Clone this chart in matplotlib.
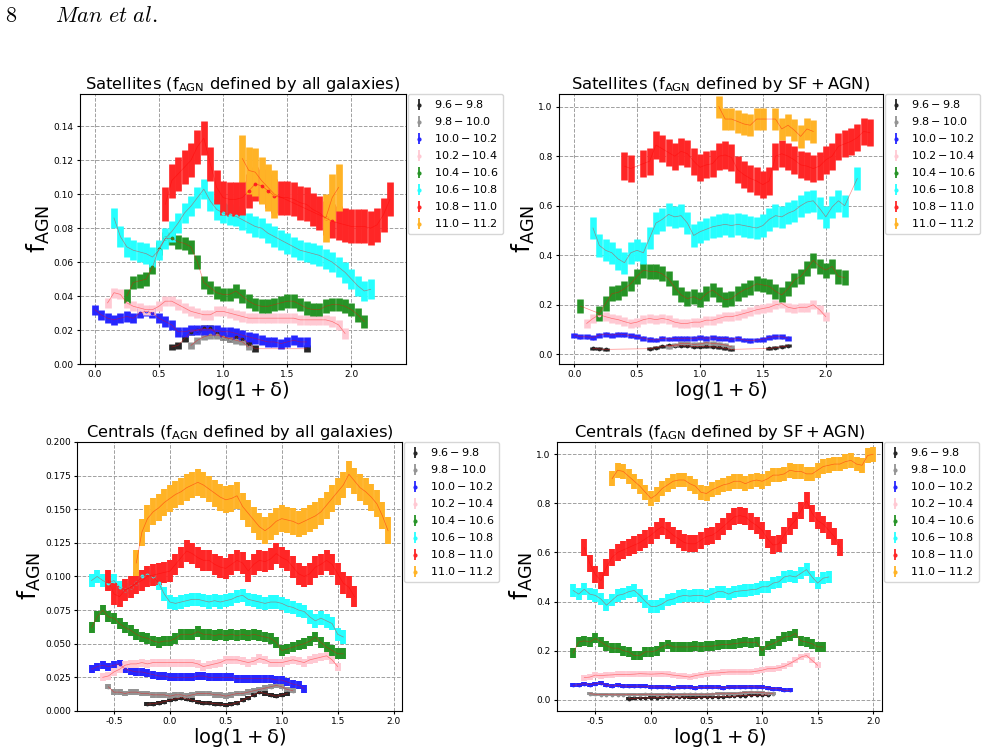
import numpy as np
import matplotlib
matplotlib.use("Agg")
import matplotlib.pyplot as plt
from matplotlib.colors import to_rgb
from matplotlib.ticker import FormatStrFormatter

# sampling grids of log(1+delta)
X_TOP = [0.00, 0.05, 0.10, 0.15, 0.20, 0.25, 0.30, 0.35, 0.40, 0.45, 0.50, 0.55,
         0.60, 0.65, 0.70, 0.75, 0.80, 0.85, 0.90, 0.95, 1.00, 1.05, 1.10, 1.15,
         1.20, 1.25, 1.30, 1.35, 1.40, 1.45, 1.50, 1.55, 1.60, 1.65, 1.70, 1.75,
         1.80, 1.85, 1.90, 1.95, 2.00, 2.05, 2.10, 2.15, 2.20, 2.25, 2.30, 2.35]
X_BOT = [-0.70, -0.65, -0.60, -0.55, -0.50, -0.45, -0.40, -0.35, -0.30, -0.25,
         -0.20, -0.15, -0.10, -0.05, 0.00, 0.05, 0.10, 0.15, 0.20, 0.25, 0.30,
         0.35, 0.40, 0.45, 0.50, 0.55, 0.60, 0.65, 0.70, 0.75, 0.80, 0.85, 0.90,
         0.95, 1.00, 1.05, 1.10, 1.15, 1.20, 1.25, 1.30, 1.35, 1.40, 1.45, 1.50,
         1.55, 1.60, 1.65, 1.70, 1.75, 1.80, 1.85, 1.90, 1.95, 2.00]

mass_bins = ['9.6-9.8', '9.8-10.0', '10.0-10.2', '10.2-10.4',
             '10.4-10.6', '10.6-10.8', '10.8-11.0', '11.0-11.2']
colors = ['black', 'grey', 'blue', 'pink', 'green', 'cyan', 'red', 'orange']

# ---- satellites, fAGN defined by all galaxies ----
sat_all_x0 = [0.60, 0.75, 0.00, 0.10, 0.25, 0.15, 0.55, 1.15]
sat_all_err = [0.002, 0.002, 0.003, 0.003, 0.004, 0.006, 0.010, 0.014]
sat_all_96 = [0.010, 0.011, 0.015, 0.019, 0.020, 0.021, 0.021, 0.018, 0.016, 0.015,
              0.016, 0.015, 0.012, 0.009] + [None] * 7 + [0.009]
sat_all_98 = [0.011, 0.014, 0.016, 0.017, 0.017, 0.016, 0.015, 0.014, 0.013, 0.010]
sat_all_100 = [0.032, 0.029, 0.027, 0.026, 0.027, 0.028, 0.027, 0.030, 0.031, 0.030,
               0.027, 0.025, 0.023, 0.019, 0.019, 0.020, 0.020, 0.020, 0.020, 0.020,
               0.019, 0.019, 0.018, 0.017, 0.016, 0.015, 0.014, 0.013, 0.013, 0.012,
               0.013, 0.014, 0.013, 0.013]
sat_all_102 = [0.036, 0.042, 0.041, 0.036, 0.034, 0.033, 0.032, 0.032, 0.034, 0.037,
               0.037, 0.035, 0.033, 0.031, 0.030, 0.029, 0.029, 0.031, 0.031, 0.030,
               0.029, 0.028, 0.027, 0.027, 0.027, 0.027, 0.027, 0.027, 0.027, 0.027,
               0.026, 0.026, 0.026, 0.026, 0.026, 0.025, 0.023, 0.018]
sat_all_104 = [0.040, 0.048, 0.049, 0.050, 0.057, 0.068, 0.074, 0.074, 0.072, 0.071,
               0.069, 0.060, 0.048, 0.045, 0.042, 0.041, 0.041, 0.043, 0.040, 0.037,
               0.035, 0.034, 0.034, 0.035, 0.036, 0.037, 0.037, 0.035, 0.033, 0.032,
               0.032, 0.034, 0.035, 0.035, 0.034, 0.032, 0.029, 0.025]
sat_all_106 = [0.086, 0.075, 0.069, 0.067, 0.066, 0.065, 0.063, 0.067, 0.074, 0.078,
               0.083, 0.089, 0.093, 0.098, 0.103, 0.096, 0.091, 0.089, 0.088, 0.087,
               0.085, 0.083, 0.081, 0.080, 0.077, 0.075, 0.073, 0.071, 0.069, 0.067,
               0.066, 0.065, 0.064, 0.062, 0.060, 0.057, 0.054, 0.050, 0.046, 0.043,
               0.044]
sat_all_108 = [0.094, 0.108, 0.112, 0.116, 0.120, 0.128, 0.133, 0.118, 0.104, 0.098,
               0.097, 0.097, 0.098, 0.102, 0.106, 0.105, 0.102, 0.099, 0.098, 0.098,
               0.097, 0.095, 0.094, 0.091, 0.089, 0.086, 0.084, 0.083, 0.082, 0.081,
               0.081, 0.081, 0.080, 0.082, 0.088, 0.097]
sat_all_110 = [0.121, 0.114, 0.113, 0.108, 0.104, 0.100] + [None] * 7 + [0.086, 0.098, 0.104]

# ---- satellites, fAGN defined by SF + AGN ----
sat_sf_x0 = [0.15, 0.75, 0.00, 0.10, 0.05, 0.15, 0.40, 1.15]
sat_sf_err = [0.006, 0.008, 0.010, 0.018, 0.030, 0.045, 0.055, 0.045]
sat_sf_96 = [0.024, 0.022, 0.020] + [None] * 6 + \
            [0.023, 0.027, 0.032, 0.036, 0.034, 0.035, 0.034, 0.031, 0.031, 0.033,
             0.031, 0.028, 0.024, 0.020] + [None] * 5 + [0.024, 0.027, 0.031, 0.034]
sat_sf_98 = [0.031, 0.038, 0.044, 0.044, 0.040, 0.042, 0.047, 0.044, 0.042, 0.038, 0.031]
sat_sf_100 = [0.078, 0.071, 0.071, 0.068, 0.078, 0.082, 0.078, 0.082, 0.080, 0.075,
              0.071, 0.065, 0.060, 0.058, 0.065, 0.062, 0.065, 0.065, 0.065, 0.065,
              0.067, 0.065, 0.067, 0.065, 0.065, 0.061, 0.065, 0.058, 0.055, 0.058,
              0.061, 0.069, 0.071, 0.071, 0.065]
sat_sf_102 = [0.125, 0.145, 0.160, 0.152, 0.145, 0.140, 0.132, 0.125, 0.130, 0.140,
              0.145, 0.140, 0.145, 0.140, 0.130, 0.125, 0.125, 0.130, 0.130, 0.138,
              0.138, 0.145, 0.152, 0.152, 0.158, 0.165, 0.172, 0.180, 0.185, 0.190,
              0.200, 0.205, 0.190, 0.185, 0.190, 0.190, 0.200, 0.180, 0.152]
sat_sf_104 = [0.195, None, None, 0.165, 0.205, 0.245, 0.250, 0.265, 0.285, 0.315,
              0.340, 0.335, 0.335, 0.325, 0.305, 0.270, 0.240, 0.225, 0.233, 0.220,
              0.245, 0.260, 0.240, 0.220, 0.225, 0.245, 0.260, 0.270, 0.285, 0.280,
              0.275, 0.255, 0.240, 0.265, 0.300, 0.315, 0.345, 0.380, 0.355, 0.340,
              0.355, 0.315, 0.310]
sat_sf_106 = [0.510, 0.440, 0.420, 0.410, 0.385, 0.370, 0.410, 0.420, 0.410, 0.470,
              0.530, 0.545, 0.565, 0.555, 0.560, 0.530, 0.480, 0.495, 0.505, 0.515,
              0.520, 0.525, 0.520, 0.525, 0.520, 0.515, 0.510, 0.520, 0.545, 0.560,
              0.555, 0.570, 0.580, 0.600, 0.615, 0.620, 0.590, 0.555, 0.595, 0.620,
              0.600, None, 0.710]
sat_sf_108 = [0.760, 0.750, None, 0.770, 0.780, 0.845, 0.830, 0.815, 0.800, 0.820,
              0.810, 0.780, 0.755, 0.765, 0.770, 0.800, 0.805, 0.795, 0.745, 0.725,
              0.710, 0.700, 0.685, 0.700, 0.800, 0.810, 0.800, 0.785, 0.765, 0.760,
              0.750, 0.760, 0.785, 0.800, 0.840, 0.850, 0.860, 0.875, 0.900, 0.895]
sat_sf_110 = [1.000, 0.950, 0.950, 0.940, 0.930, 0.925, 0.950, 0.950, None, 0.950,
              0.910, 0.925, 0.905, 0.880, 0.910, 0.900]

# ---- centrals, fAGN defined by all galaxies ----
cen_all_x0 = [-0.20, -0.55, -0.70, -0.60, -0.70, -0.70, -0.55, -0.30]
cen_all_err = [0.0015, 0.002, 0.003, 0.003, 0.004, 0.005, 0.008, 0.010]
cen_all_96 = [0.005, 0.0055, 0.006, 0.007, 0.008, 0.009, 0.010, 0.009, 0.008, 0.007,
              0.006, 0.006, 0.0055, 0.005, 0.0047, 0.005, 0.006, 0.008, 0.010, 0.012,
              0.014, 0.013, 0.012, 0.011, 0.012, 0.013]
cen_all_98 = [0.018, 0.014, 0.014, 0.013, 0.014, 0.014, 0.013, 0.013, 0.012, 0.012,
              0.012, 0.011, 0.012, 0.012, 0.011, 0.012, 0.013, 0.013, 0.013, 0.012,
              0.012, 0.011, 0.012, 0.013, 0.013, 0.014, 0.015, 0.016, 0.017, 0.018,
              0.019, 0.018, 0.016, 0.015]
cen_all_100 = [0.031, 0.033, 0.034, 0.033, 0.034, 0.035, 0.031, 0.030, 0.029, 0.029,
               0.028, 0.027, 0.026, 0.026, 0.025, 0.025, 0.025, 0.025, 0.025, 0.026,
               0.026, 0.025, 0.025, 0.025, 0.025, 0.025, 0.024, 0.024, 0.024, 0.024,
               0.024, 0.024, 0.024, 0.023, 0.023, 0.0215, 0.020, 0.019, 0.0166]
cen_all_102 = [0.025, 0.026, 0.029, 0.031, 0.034, 0.035, 0.035, 0.036, 0.035, 0.036,
               0.036, 0.036, 0.036, 0.036, 0.036, 0.036, 0.036, 0.035, 0.033, 0.034,
               0.035, 0.036, 0.038, 0.038, 0.038, 0.037, 0.036, 0.037, 0.039, 0.038,
               0.036, 0.036, 0.036, 0.037, 0.038, 0.037, 0.036, 0.038, 0.039, 0.040,
               0.041, 0.038, 0.033]
cen_all_104 = [0.062, 0.070, 0.075, 0.070, 0.069, 0.065, 0.062, 0.060, 0.057, 0.055,
               0.054, 0.052, 0.051, 0.052, 0.052, 0.054, 0.057, 0.057, 0.057, 0.059,
               0.057, 0.057, 0.056, 0.057, 0.056, 0.057, 0.056, 0.057, 0.056, 0.057,
               0.056, 0.055, 0.054, 0.051, 0.045, 0.046, 0.0475, 0.049, 0.050, 0.052,
               0.055, 0.051, 0.0475, 0.045, 0.0425, 0.0425]
cen_all_106 = [0.097, 0.100, 0.097, 0.095, 0.097, 0.092, 0.090, 0.092, 0.095, 0.100,
               0.101, 0.100, 0.095, 0.087, 0.081, 0.080, 0.081, 0.082, 0.083, 0.083,
               0.082, 0.081, 0.082, 0.081, 0.082, 0.083, 0.085, 0.086, 0.083, 0.082,
               0.081, 0.080, 0.081, 0.081, 0.080, 0.078, 0.077, 0.075, 0.074, 0.070,
               0.067, 0.069, 0.067, 0.065, 0.057, 0.055]
cen_all_108 = [0.097, 0.087, 0.085, 0.090, 0.092, 0.095, 0.097, 0.100, 0.101, 0.102,
               0.103, 0.104, 0.109, 0.114, 0.119, 0.117, 0.114, 0.112, 0.112, 0.109,
               0.107, 0.106, 0.109, 0.112, 0.110, 0.104, 0.109, 0.112, 0.111, 0.113,
               0.117, 0.114, 0.112, 0.107, 0.102, 0.100, 0.102, 0.107, 0.109, 0.112,
               0.109, 0.102, 0.095, 0.092, 0.085]
cen_all_110 = [0.110, 0.133, 0.143, 0.148, 0.151, 0.155, 0.158, 0.161, 0.163, 0.166,
               0.168, 0.170, 0.168, 0.165, 0.162, 0.159, 0.157, 0.158, 0.160, 0.152,
               0.147, 0.142, 0.137, 0.134, 0.137, 0.141, 0.143, 0.142, 0.141, 0.139,
               0.141, 0.143, 0.145, 0.148, 0.153, 0.158, 0.163, 0.168, 0.176, 0.171,
               0.166, 0.163, 0.159, 0.154, 0.145, 0.134]

# ---- centrals, fAGN defined by SF + AGN ----
cen_sf_x0 = [-0.20, -0.55, -0.70, -0.60, -0.70, -0.70, -0.60, -0.35]
cen_sf_err = [0.005, 0.006, 0.008, 0.012, 0.020, 0.025, 0.035, 0.030]
cen_sf_96 = [0.004, 0.005, 0.007, 0.007, 0.008, 0.008, 0.009, 0.010, 0.011, 0.010,
             0.010, 0.009, 0.009, 0.010, 0.010, 0.010, 0.011, 0.012, 0.013, 0.014,
             0.016, 0.017, 0.018, 0.018, 0.019, 0.020]
cen_sf_98 = [0.0245, 0.022, 0.021, 0.021, 0.020, 0.020, 0.020, 0.021, 0.021, 0.021,
             0.022, 0.022, 0.021, 0.021, 0.022, 0.021, 0.021, 0.022, 0.022, 0.022,
             0.022, 0.022, 0.023, 0.024, 0.024, 0.024, 0.025, 0.027, 0.029, 0.031,
             0.030, 0.029, 0.027, 0.024]
cen_sf_100 = [0.058, 0.061, 0.065, 0.061, 0.065, 0.068, 0.058, 0.056, 0.058, 0.056,
              0.054, 0.055, 0.055, 0.054, 0.052, 0.052, 0.052, 0.050, 0.049, 0.050,
              0.052, 0.050, 0.049, 0.050, 0.050, 0.051, 0.050, 0.049, 0.051, 0.052,
              0.052, 0.052, 0.053, 0.052, 0.050, 0.049, 0.045, 0.045, 0.038, 0.038]
cen_sf_102 = [0.090, 0.092, 0.100, 0.098, 0.100, 0.101, 0.103, 0.103, 0.103, 0.104,
              0.106, 0.105, 0.104, 0.105, 0.106, 0.104, 0.100, 0.098, 0.095, 0.092,
              0.098, 0.102, 0.106, 0.108, 0.109, 0.111, 0.113, 0.113, 0.113, 0.113,
              0.113, 0.116, 0.120, 0.126, 0.126, 0.130, 0.136, 0.147, 0.160, 0.174,
              0.180, 0.160, 0.140]
cen_sf_104 = [0.190, 0.235, 0.240, 0.235, 0.250, 0.235, 0.220, 0.210, 0.210, 0.200,
              0.195, 0.180, 0.180, 0.195, 0.195, 0.200, 0.215, 0.225, 0.215, 0.215,
              0.215, 0.215, 0.218, 0.215, 0.218, 0.218, 0.222, 0.225, 0.225, 0.228,
              0.231, 0.235, 0.232, 0.235, 0.200, 0.221, 0.228, 0.240, 0.255, 0.258,
              0.270, 0.240, 0.235, 0.228, 0.215, 0.215]
cen_sf_106 = [0.445, 0.430, 0.450, 0.430, 0.425, 0.410, 0.385, 0.405, 0.425, 0.430,
              0.440, 0.445, 0.425, 0.400, 0.380, 0.380, 0.390, 0.405, 0.410, 0.420,
              0.425, 0.422, 0.425, 0.425, 0.420, 0.430, 0.440, 0.440, 0.430, 0.440,
              0.443, 0.445, 0.448, 0.450, 0.460, 0.460, 0.475, 0.480, 0.500, 0.505,
              0.500, 0.515, 0.530, 0.500, 0.475, 0.495, 0.500]
cen_sf_108 = [0.620, 0.555, 0.510, 0.485, 0.540, 0.580, 0.600, 0.610, 0.620, 0.630,
              0.640, 0.655, 0.670, 0.690, 0.705, 0.690, 0.670, 0.655, 0.640, 0.635,
              0.635, 0.650, 0.665, 0.670, 0.685, 0.705, 0.725, 0.745, 0.750, 0.745,
              0.725, 0.710, 0.690, 0.655, 0.630, 0.635, 0.670, 0.705, 0.730, 0.770,
              0.810, 0.760, 0.730, 0.715, 0.690, 0.665, 0.620]
cen_sf_110 = [0.900, 0.935, 0.930, 0.910, 0.890, 0.870, 0.845, 0.820, 0.835, 0.860,
              0.875, 0.890, 0.895, 0.895, 0.880, 0.870, 0.845, 0.840, 0.855, 0.865,
              0.875, 0.880, 0.890, 0.890, 0.880, 0.890, 0.895, 0.890, 0.900, 0.915,
              0.915, 0.920, 0.935, 0.930, 0.930, 0.920, 0.920, 0.935, 0.950, 0.955,
              0.960, 0.960, 0.970, 0.975, 0.960, 0.955, 0.995, 1.000]

panels = [
    dict(rect=[0.0807, 0.5153, 0.329, 0.3595], grid=X_TOP, x0=sat_all_x0, err=sat_all_err,
         series=[sat_all_96, sat_all_98, sat_all_100, sat_all_102, sat_all_104,
                 sat_all_106, sat_all_108, sat_all_110],
         title=r'Satellites ($\rm f_{AGN}$ defined by all galaxies)',
         xlim=(-0.115, 2.425), ylim=(0, 0.159), yticks=np.arange(0, 0.141, 0.02),
         xticks=[0, 0.5, 1.0, 1.5, 2.0], yfmt='%.2f'),
    dict(rect=[0.5641, 0.5153, 0.327, 0.3595], grid=X_TOP, x0=sat_sf_x0, err=sat_sf_err,
         series=[sat_sf_96, sat_sf_98, sat_sf_100, sat_sf_102, sat_sf_104,
                 sat_sf_106, sat_sf_108, sat_sf_110],
         title=r'Satellites ($\rm f_{AGN}$ defined by $\rm SF+AGN$)',
         xlim=(-0.12, 2.455), ylim=(-0.039, 1.051), yticks=np.arange(0, 1.01, 0.2),
         xticks=[0, 0.5, 1.0, 1.5, 2.0], yfmt='%.1f'),
    dict(rect=[0.0777, 0.0533, 0.328, 0.3582], grid=X_BOT, x0=cen_all_x0, err=cen_all_err,
         series=[cen_all_96, cen_all_98, cen_all_100, cen_all_102, cen_all_104,
                 cen_all_106, cen_all_108, cen_all_110],
         title=r'Centrals ($\rm f_{AGN}$ defined by all galaxies)',
         xlim=(-0.83, 2.075), ylim=(0, 0.2), yticks=np.arange(0, 0.201, 0.025),
         xticks=[-0.5, 0, 0.5, 1.0, 1.5, 2.0], yfmt='%.3f'),
    dict(rect=[0.5621, 0.0533, 0.328, 0.3582], grid=X_BOT, x0=cen_sf_x0, err=cen_sf_err,
         series=[cen_sf_96, cen_sf_98, cen_sf_100, cen_sf_102, cen_sf_104,
                 cen_sf_106, cen_sf_108, cen_sf_110],
         title=r'Centrals ($\rm f_{AGN}$ defined by $\rm SF+AGN$)',
         xlim=(-0.845, 2.08), ylim=(-0.046, 1.05), yticks=np.arange(0, 1.01, 0.2),
         xticks=[-0.5, 0, 0.5, 1.0, 1.5, 2.0], yfmt='%.1f'),
]

FIG_W, FIG_H = 9.91, 7.51


def on_grid(grid, x0, ys):
    i0 = int(np.argmin(np.abs(np.array(grid) - x0)))
    xs, vs = [], []
    for k, v in enumerate(ys):
        if v is not None:
            xs.append(grid[i0 + k])
            vs.append(v)
    return np.array(xs), np.array(vs)


def faded(c, a=0.85):
    # colour as it looks at alpha a on white, so that touching bars leave no seams
    r = np.array(to_rgb(c))
    return tuple(a * r + (1 - a))


fig = plt.figure(figsize=(FIG_W, FIG_H), dpi=100)

for p in panels:
    ax = fig.add_axes(p['rect'])
    step = p['grid'][1] - p['grid'][0]
    # bar width (points) so that neighbouring error bars just touch
    bar_w = step / (p['xlim'][1] - p['xlim'][0]) * p['rect'][2] * FIG_W * 72 + 0.2
    for ys, x0, e, c, lab in zip(p['series'], p['x0'], p['err'], colors, mass_bins):
        x, y = on_grid(p['grid'], x0, ys)
        fc = faded(c)
        ax.errorbar(x, y, yerr=e, fmt='.', color=fc, ecolor=fc, ms=3.5, elinewidth=bar_w,
                    capsize=0, zorder=2)
        ax.plot(x, y, color='red', lw=0.5, alpha=0.45, zorder=3)
        # thin proxy for the legend handle
        ax.errorbar([], [], yerr=[], fmt='.', color=fc, ecolor=fc, ms=4,
                    elinewidth=1.3, label=r'$%s$' % lab)
    ax.set_xlim(p['xlim'])
    ax.set_ylim(p['ylim'])
    ax.set_xticks(p['xticks'])
    ax.set_yticks(p['yticks'])
    ax.xaxis.set_major_formatter(FormatStrFormatter('%.1f'))
    ax.yaxis.set_major_formatter(FormatStrFormatter(p['yfmt']))
    ax.tick_params(labelsize=6.5, length=2.5, width=0.8, pad=2)
    ax.grid(True, ls='--', color='#a0a0a0', lw=0.7)
    ax.set_axisbelow(True)
    ax.set_title(p['title'], fontsize=11.8, pad=2)
    ax.set_xlabel(r'$\rm log(1+\delta)$', fontsize=14, labelpad=0)
    ax.set_ylabel(r'$\rm f_{AGN}$', fontsize=18, labelpad=1)
    ax.legend(loc='upper left', bbox_to_anchor=(1.005, 1.0), borderaxespad=0,
              fontsize=8, handlelength=1.2, labelspacing=0.45)

fig.text(0.005, 0.971, r'$8$', math_fontfamily='cm', fontsize=16, va='baseline')
fig.text(0.055, 0.971, r'$Man\ et\ al.$', math_fontfamily='cm', fontsize=16, va='baseline')

fig.savefig('out.png', dpi=100)
